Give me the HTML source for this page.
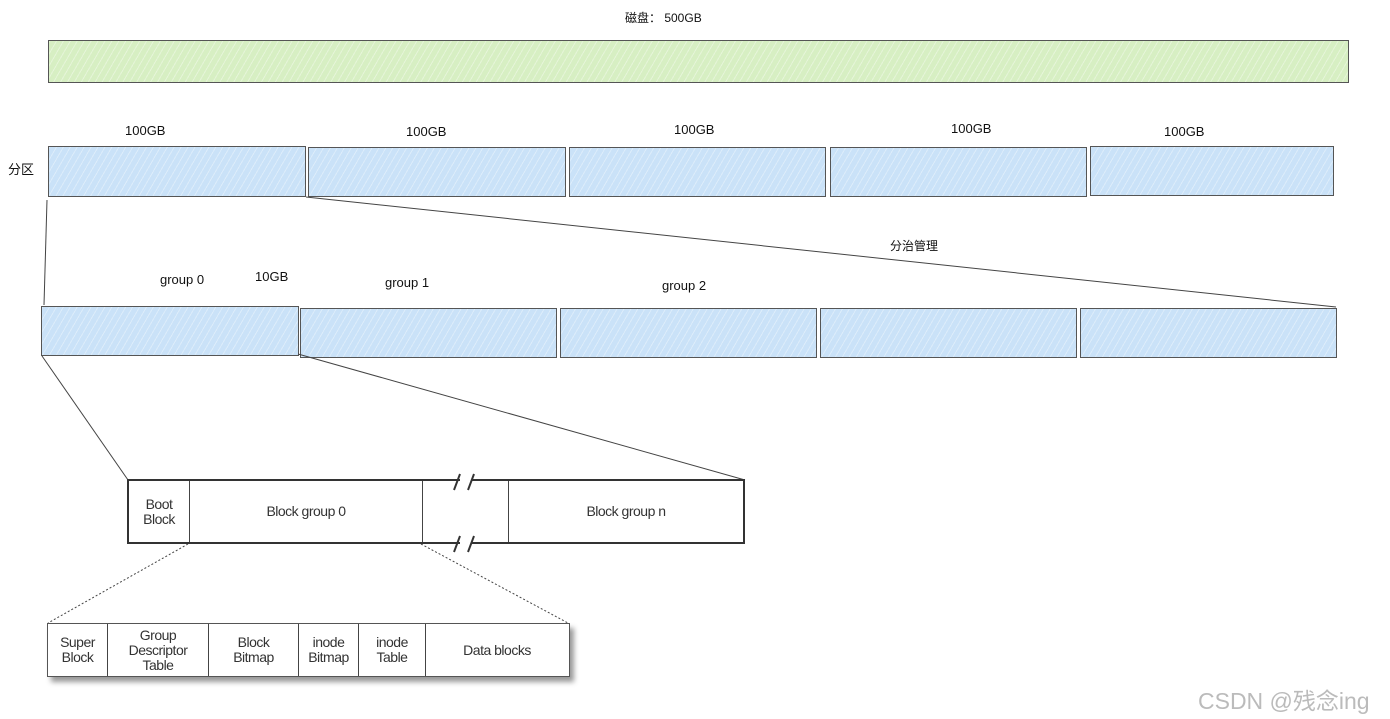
<!DOCTYPE html><html><head><meta charset="utf-8"><style>
body{margin:0;width:1390px;height:719px;background:#fff;position:relative;overflow:hidden;font-family:"Liberation Sans","Noto Sans CJK SC",sans-serif}
.b{position:absolute;border:1px solid #555;box-sizing:border-box;background:repeating-linear-gradient(120deg,rgba(255,255,255,.35) 0 1px,transparent 1px 6px)}
.g{background-color:#d7efc3}.u{background-color:#cae2f8}
.t{position:absolute;font-size:13px;color:#111;white-space:nowrap}
.c{position:absolute;display:flex;align-items:center;justify-content:center;text-align:center;font-family:"Liberation Sans Narrow","Liberation Sans",sans-serif;font-size:14px;line-height:15px;color:#333;letter-spacing:-0.5px;box-sizing:border-box;border-right:1.5px solid #444;height:100%;top:0}
</style></head><body>
<div class="t" style="left:625px;top:9px;font-size:12px">磁盘： 500GB</div>
<div class="b g" style="left:48px;top:40px;width:1301px;height:43px"></div>
<div class="t" style="left:125px;top:123px">100GB</div>
<div class="t" style="left:406px;top:124px">100GB</div>
<div class="t" style="left:674px;top:122px">100GB</div>
<div class="t" style="left:951px;top:121px">100GB</div>
<div class="t" style="left:1164px;top:124px">100GB</div>
<div class="t" style="left:8px;top:159px">分区</div>
<div class="b u" style="left:48px;top:146px;width:258px;height:51px"></div>
<div class="b u" style="left:308px;top:147px;width:258px;height:50px"></div>
<div class="b u" style="left:569px;top:147px;width:257px;height:50px"></div>
<div class="b u" style="left:830px;top:147px;width:257px;height:50px"></div>
<div class="b u" style="left:1090px;top:146px;width:244px;height:50px"></div>
<div class="t" style="left:890px;top:237px;font-size:12px">分治管理</div>
<div class="t" style="left:160px;top:272px">group 0</div>
<div class="t" style="left:255px;top:269px">10GB</div>
<div class="t" style="left:385px;top:275px">group 1</div>
<div class="t" style="left:662px;top:278px">group 2</div>
<div class="b u" style="left:41px;top:306px;width:258px;height:50px"></div>
<div class="b u" style="left:300px;top:308px;width:257px;height:50px"></div>
<div class="b u" style="left:560px;top:308px;width:257px;height:50px"></div>
<div class="b u" style="left:820px;top:308px;width:257px;height:50px"></div>
<div class="b u" style="left:1080px;top:308px;width:257px;height:50px"></div>
<svg style="position:absolute;left:0;top:0" width="1390" height="719">
<g stroke="#444" stroke-width="1" fill="none">
<line x1="47" y1="200" x2="44" y2="305"/>
<line x1="306" y1="197" x2="1336" y2="307"/>
<line x1="42" y1="356" x2="128" y2="480"/>
<line x1="298" y1="354" x2="745" y2="480"/>
<line x1="188" y1="544" x2="48" y2="623" stroke-dasharray="2,2"/>
<line x1="421" y1="544" x2="568" y2="623" stroke-dasharray="2,2"/>
</g></svg>
<div style="position:absolute;left:127px;top:479px;width:618px;height:65px;border:2px solid #333;box-sizing:border-box;background:#fff">
<div class="c" style="left:0;width:61px">Boot<br>Block</div>
<div class="c" style="left:61px;width:233px">Block group 0</div>
<div class="c" style="left:294px;width:86px;border-right:1.5px solid #444"></div>
<div class="c" style="left:380px;width:234px;border-right:none">Block group n</div>
</div>
<div style="position:absolute;left:460px;top:477px;width:11px;height:4px;background:#fff"></div>
<div style="position:absolute;left:460px;top:542px;width:11px;height:4px;background:#fff"></div>
<svg style="position:absolute;left:0;top:0" width="1390" height="719">
<g stroke="#333" stroke-width="2">
<line x1="454" y1="490" x2="460" y2="474"/><line x1="468" y1="490" x2="474" y2="474"/>
<line x1="454" y1="552" x2="460" y2="536"/><line x1="468" y1="552" x2="474" y2="536"/>
</g></svg>
<div style="position:absolute;left:47px;top:623px;width:523px;height:54px;border:1.5px solid #555;box-sizing:border-box;background:#fff;box-shadow:4px 5px 5px #999">
<div class="c" style="left:0;width:60px">Super<br>Block</div>
<div class="c" style="left:60px;width:101px">Group<br>Descriptor<br>Table</div>
<div class="c" style="left:161px;width:90px">Block<br>Bitmap</div>
<div class="c" style="left:251px;width:60px">inode<br>Bitmap</div>
<div class="c" style="left:311px;width:67px">inode<br>Table</div>
<div class="c" style="left:378px;width:142px;border-right:none">Data blocks</div>
</div>
<div class="t" style="left:1198px;top:682px;font-size:23px;color:#bbb">CSDN @残念ing</div>
</body></html>
